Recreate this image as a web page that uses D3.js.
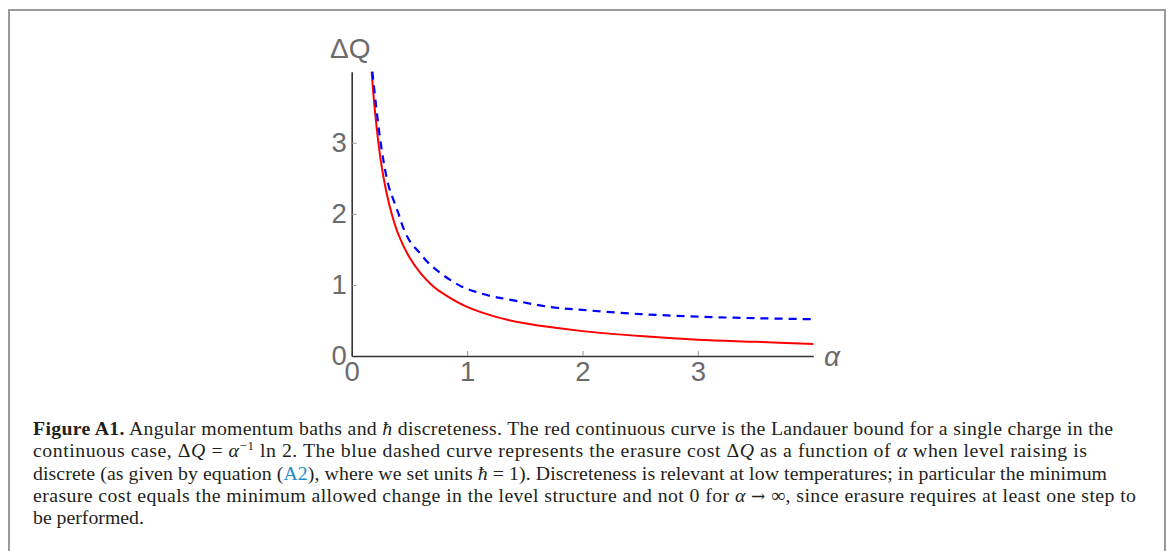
<!DOCTYPE html>
<html>
  <head>
    <title>Figure A1 - erasure cost</title>
    <style>
      body { margin: 0; background: #fff; }
    </style>
  </head>
  <body>
    <script src="https://cdn.jsdelivr.net/npm/d3@7"></script>
    <script>
      // data
      var alphaRed = [0.173, 0.2, 0.25, 0.3, 0.35, 0.4, 0.5, 0.6, 0.7, 0.8, 1.0, 1.25, 1.5, 2.0, 2.5, 3.0, 3.5, 4.0];
      var dqRed    = [4.0, 3.47, 2.77, 2.31, 1.98, 1.73, 1.39, 1.16, 0.99, 0.87, 0.69, 0.55, 0.46, 0.35, 0.28, 0.23, 0.2, 0.17];

      var alphaBlue = [0.179, 0.251, 0.317, 0.361, 0.404, 0.448, 0.506, 0.578, 0.664, 0.751, 0.853, 0.954, 1.069, 1.2, 1.344, 1.72, 2.0, 2.5, 3.0, 3.5, 4.0];
      var dqBlue    = [4.0, 3.0, 2.41, 2.2, 2.01, 1.8, 1.61, 1.47, 1.31, 1.19, 1.07, 0.976, 0.906, 0.845, 0.80, 0.69, 0.648, 0.59, 0.554, 0.532, 0.517];

      var xTicks = [0, 1, 2, 3];
      var yTicks = [0, 1, 2, 3];

      var captionLines = [
        [["Figure A1.", "b"], [" Angular momentum baths and "], ["ħ", "i"], [" discreteness. The red continuous curve is the Landauer bound for a single charge in the"]],
        [["continuous case, Δ"], ["Q", "i"], [" = "], ["α", "i"], ["−1", "sup"], [" ln 2. The blue dashed curve represents the erasure cost Δ"], ["Q", "i"], [" as a function of "], ["α", "i"], [" when level raising is"]],
        [["discrete (as given by equation ("], ["A2", "link"], ["), where we set units "], ["ħ", "i"], [" = 1). Discreteness is relevant at low temperatures; in particular the minimum"]],
        [["erasure cost equals the minimum allowed change in the level structure and not 0 for "], ["α", "i"], [" "], ["→", "sym"], [" ∞, since erasure requires at least one step to"]],
        [["be performed."]]
      ];
      var captionWidths = [1080, 1054, 1074, 1103, null];

      var W = 1171, H = 551;
      var svg = d3.select('body').append('svg').attr('width', W).attr('height', H);

      // frame
      svg.append('path')
        .attr('d', 'M9,' + (H + 10) + 'V10H1165V' + (H + 10))
        .attr('fill', 'none')
        .attr('stroke', '#9a9a9a')
        .attr('stroke-width', 2);

      var x = d3.scaleLinear().domain([0, 4]).range([351.7, 813.3]);
      var y = d3.scaleLinear().domain([0, 4]).range([356, 71.7]);

      var gx = svg.append('g').attr('transform', 'translate(0,' + y(0) + ')')
        .call(d3.axisBottom(x).tickValues(xTicks).tickSizeInner(-5).tickSizeOuter(0).tickPadding(5).tickFormat(d3.format('d')));
      var gy = svg.append('g').attr('transform', 'translate(' + x(0) + ',0)')
        .call(d3.axisLeft(y).tickValues(yTicks).tickSizeInner(-5).tickSizeOuter(0).tickPadding(5).tickFormat(d3.format('d')));

      [gx, gy].forEach(function(g) {
        g.select('.domain').attr('stroke', '#333').attr('stroke-width', 1.6);
        g.selectAll('.tick line').attr('stroke', '#999').attr('stroke-width', 1);
        g.selectAll('.tick text')
          .attr('fill', '#6b6b6b')
          .style('font-family', '"Liberation Sans", Arial, sans-serif')
          .style('font-size', '27.5px');
      });
      gy.selectAll('.tick').filter(function(d) { return d === 0; }).select('line').remove();

      svg.append('text')
        .attr('x', 330).attr('y', 58)
        .attr('fill', '#6b6b6b')
        .style('font-family', '"Liberation Sans", Arial, sans-serif')
        .style('font-size', '28px')
        .text('ΔQ');

      svg.append('text')
        .attr('x', 824).attr('y', 366)
        .attr('fill', '#6b6b6b')
        .style('font-family', '"Liberation Sans", Arial, sans-serif')
        .style('font-style', 'italic')
        .style('font-size', '28px')
        .text('α');

      var line = d3.line()
        .x(function(d) { return x(d[0]); })
        .y(function(d) { return y(d[1]); })
        .curve(d3.curveCatmullRom.alpha(0.5));

      svg.append('path')
        .datum(d3.zip(alphaRed, dqRed))
        .attr('d', line)
        .attr('fill', 'none')
        .attr('stroke', '#ff0000')
        .attr('stroke-width', 2);

      svg.append('path')
        .datum(d3.zip(alphaBlue, dqBlue))
        .attr('d', line)
        .attr('fill', 'none')
        .attr('stroke', '#0000ff')
        .attr('stroke-width', 2.2)
        .attr('stroke-dasharray', '8,6');

      // caption
      var cap = svg.append('g')
        .style('font-family', '"Liberation Serif", "Times New Roman", serif')
        .style('font-size', '19.8px')
        .attr('fill', '#231f20');

      captionLines.forEach(function(segs, i) {
        var t = cap.append('text').attr('x', 33).attr('y', 435 + i * 22.3);
        if (captionWidths[i]) t.attr('textLength', captionWidths[i]).attr('lengthAdjust', 'spacing');
        segs.forEach(function(s) {
          var ts = t.append('tspan').text(s[0]);
          if (s[1] === 'b') ts.style('font-weight', 'bold');
          if (s[1] === 'i') ts.style('font-style', 'italic');
          if (s[1] === 'link') ts.attr('fill', '#1f8ac8');
          if (s[1] === 'sym') ts.style('font-family', '"DejaVu Serif", serif').style('font-size', '17px');
          if (s[1] === 'sup') ts.attr('baseline-shift', 'super').style('font-size', '13px');
        });
      });
    </script>
  </body>
</html>
